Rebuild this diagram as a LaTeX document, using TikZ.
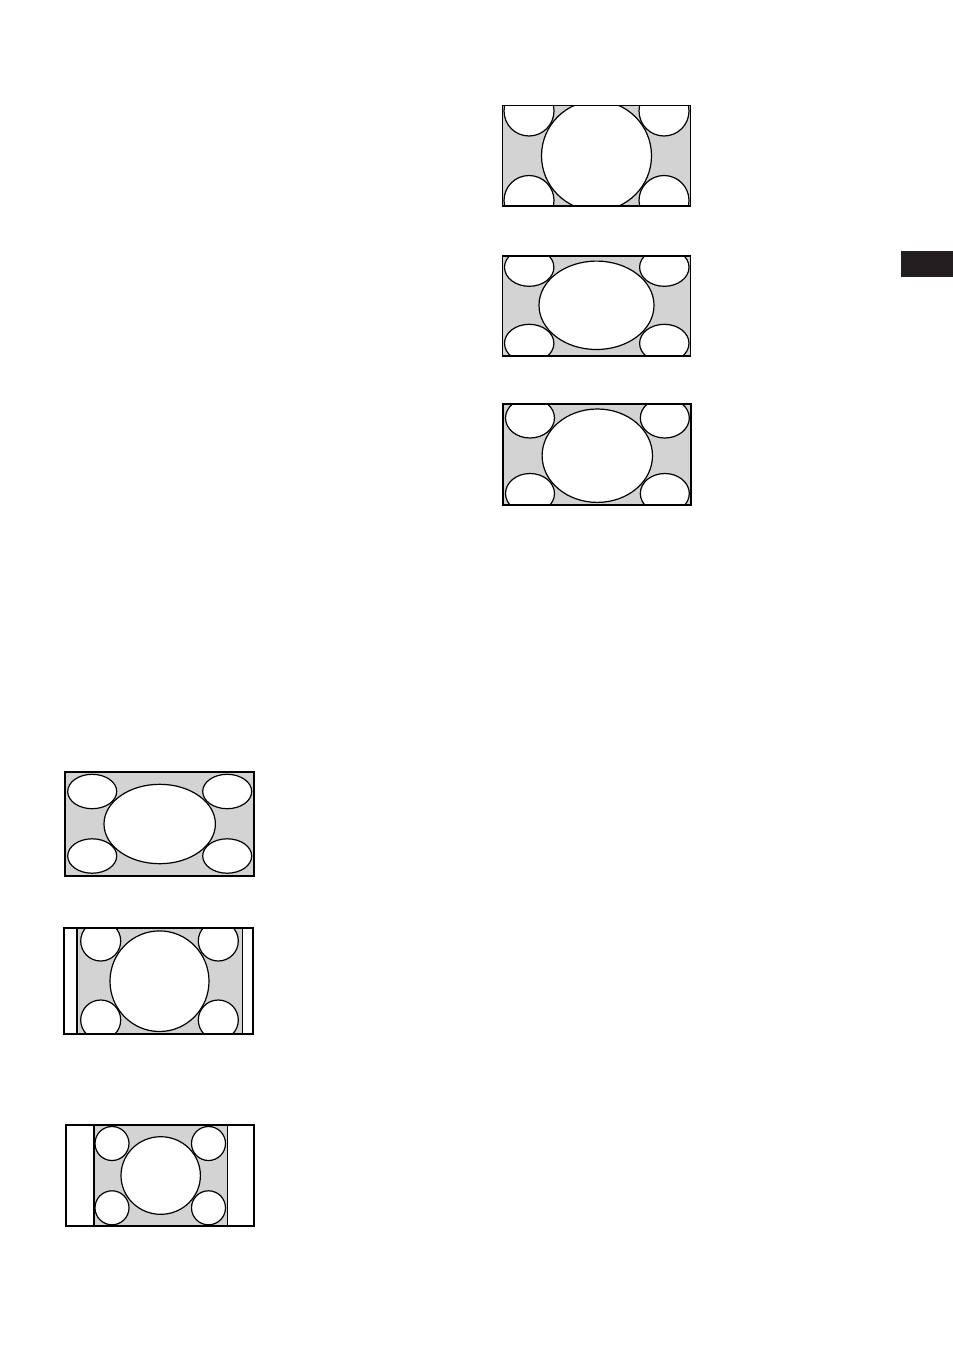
\documentclass[tikz,border=0pt]{standalone}
\definecolor{scrgray}{RGB}{211,211,211}
\definecolor{tabblack}{RGB}{35,31,32}
\begin{document}
\begin{tikzpicture}[x=1pt,y=-1pt,
  framebox/.style={draw=black,line width=1.9pt},
  barline/.style={draw=black,line width=1.6pt},
  picshape/.style={draw=black,fill=white,line width=1.2pt}]
\useasboundingbox (0,0) rectangle (953,1352);
\fill[white] (0,0) rectangle (953,1352);
% side tab
\fill[tabblack] (901,251) rectangle (953,277);

% ---------- panel 1 ----------
\fill[scrgray] (502.5,105.5) rectangle (690.5,206);
\begin{scope}
  \clip (502.5,105.5) rectangle (690.5,206);
  \draw[picshape] (596.5,155.75) circle[radius=55];
  \draw[picshape] (529,111) circle[radius=25];
  \draw[picshape] (664,111) circle[radius=25];
  \draw[picshape] (529,200.5) circle[radius=25];
  \draw[picshape] (664,200.5) circle[radius=25];
\end{scope}
\draw[framebox] (502.5,105.5) rectangle (690.5,206);

% ---------- panel 2 ----------
\fill[scrgray] (502.5,255.7) rectangle (690.5,356);
\begin{scope}
  \clip (502.5,255.7) rectangle (690.5,356);
  \draw[picshape] (596.5,305.3) ellipse[x radius=57.5,y radius=44.2];
  \draw[picshape] (529.2,267.3) ellipse[x radius=24.7,y radius=19];
  \draw[picshape] (664.3,267.3) ellipse[x radius=24.7,y radius=19];
  \draw[picshape] (529.2,343.3) ellipse[x radius=24.7,y radius=19];
  \draw[picshape] (664.3,343.3) ellipse[x radius=24.7,y radius=19];
\end{scope}
\draw[framebox] (502.5,255.7) rectangle (690.5,356);

% ---------- panel 3 ----------
\fill[scrgray] (503.3,404.3) rectangle (691,505);
\begin{scope}
  \clip (503.3,404.3) rectangle (691,505);
  \draw[picshape] (597.3,455.7) ellipse[x radius=55.2,y radius=46.7];
  \draw[picshape] (530,418) ellipse[x radius=24.5,y radius=20];
  \draw[picshape] (664.8,418) ellipse[x radius=24.5,y radius=20];
  \draw[picshape] (530,493.5) ellipse[x radius=24.5,y radius=20];
  \draw[picshape] (664.8,493.5) ellipse[x radius=24.5,y radius=20];
\end{scope}
\draw[framebox] (503.3,404.3) rectangle (691,505);

% ---------- panel 4 ----------
\fill[scrgray] (65,772.3) rectangle (254.3,875.7);
\begin{scope}
  \clip (65,772.3) rectangle (254.3,875.7);
  \draw[picshape] (159.7,824) ellipse[x radius=55.7,y radius=39.7];
  \draw[picshape] (92.2,791.5) ellipse[x radius=24.5,y radius=17.2];
  \draw[picshape] (227.2,791.5) ellipse[x radius=24.5,y radius=17.2];
  \draw[picshape] (92.2,856) ellipse[x radius=24.5,y radius=17.2];
  \draw[picshape] (227.2,856) ellipse[x radius=24.5,y radius=17.2];
\end{scope}
\draw[framebox] (65,772.3) rectangle (254.3,875.7);

% ---------- panel 5 ----------
\fill[white] (64.3,928.3) rectangle (253.3,1033.7);
\fill[scrgray] (76.7,928.3) rectangle (242.3,1033.7);
\begin{scope}
  \clip (76.7,928.3) rectangle (242.3,1033.7);
  \draw[picshape] (159.5,981.2) ellipse[x radius=49.5,y radius=50.3];
  \draw[picshape] (100.7,941) circle[radius=20];
  \draw[picshape] (218.3,941) circle[radius=20];
  \draw[picshape] (100.7,1020) circle[radius=20];
  \draw[picshape] (218.3,1020) circle[radius=20];
\end{scope}
\draw[barline] (76.7,928.3) -- (76.7,1033.7);
\draw[barline] (242.3,928.3) -- (242.3,1033.7);
\draw[framebox] (64.3,928.3) rectangle (253.3,1033.7);

% ---------- panel 6 ----------
\fill[white] (66,1125) rectangle (254.3,1225.7);
\fill[scrgray] (94,1125) rectangle (227.3,1225.7);
\begin{scope}
  \clip (94,1125) rectangle (227.3,1225.7);
  \draw[picshape] (160.7,1175.5) ellipse[x radius=39.7,y radius=38.8];
  \draw[picshape] (112,1143.5) circle[radius=17];
  \draw[picshape] (208.5,1143.5) circle[radius=17];
  \draw[picshape] (112,1207.8) circle[radius=17];
  \draw[picshape] (208.5,1207.8) circle[radius=17];
\end{scope}
\draw[barline] (94,1125) -- (94,1225.7);
\draw[barline] (227.3,1125) -- (227.3,1225.7);
\draw[framebox] (66,1125) rectangle (254.3,1225.7);
\end{tikzpicture}
\end{document}
